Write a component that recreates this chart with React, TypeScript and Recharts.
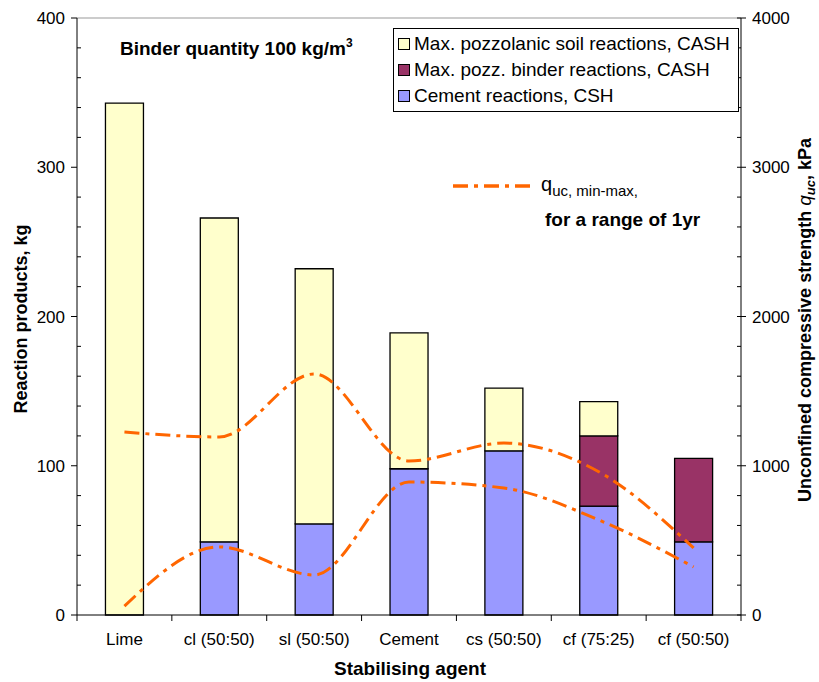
import React from "react";
import {
  Bar,
  ComposedChart,
  Customized,
  Legend,
  Line,
  ReferenceLine,
  XAxis,
  YAxis,
} from "recharts";

const agents = ["Lime", "cl (50:50)", "sl (50:50)", "Cement", "cs (50:50)", "cf (75:25)", "cf (50:50)"];
const cementCsh = [0, 49, 61, 98, 110, 73, 49];
const binderCash = [0, 0, 0, 0, 0, 47, 56];
const soilCash = [343, 217, 171, 91, 42, 23, 0];
const qucMax = [1226, 1193, 1615, 1032, 1152, 960, 449];
const qucMin = [60, 456, 268, 891, 851, 637, 322];

const leftTicks = [0, 20, 40, 60, 80, 100, 120, 140, 160, 180, 200, 220, 240, 260, 280, 300, 320, 340, 360, 380, 400];
const rightTicks = [0, 200, 400, 600, 800, 1000, 1200, 1400, 1600, 1800, 2000, 2200, 2400, 2600, 2800, 3000, 3200, 3400, 3600, 3800, 4000];

const legendItems = [
  { name: "Max. pozzolanic soil reactions, CASH", color: "#ffffcc" },
  { name: "Max. pozz. binder reactions, CASH", color: "#993366" },
  { name: "Cement reactions, CSH", color: "#9999ff" },
];

const data = agents.map((agent, i) => ({
  agent,
  csh: cementCsh[i],
  binder: binderCash[i],
  soil: soilCash[i],
  qmax: qucMax[i],
  qmin: qucMin[i],
}));

const W = 819;
const H = 682;
const PLOT_LEFT = 77;
const PLOT_RIGHT = 741;
const PLOT_TOP = 18;
const PLOT_BOTTOM = 615;
const FONT = "'Liberation Sans', Arial, sans-serif";
const ORANGE = "#ff6600";
const DASH = "15 6 4 6";

const halfBand = (PLOT_RIGHT - PLOT_LEFT) / agents.length / 2;

function LeftTick(props: any) {
  const { y, payload } = props;
  const major = payload.value % 100 === 0;
  return (
    <g>
      {major ? (
        <line x1={PLOT_LEFT - 6} x2={PLOT_LEFT} y1={y} y2={y} stroke="#000" />
      ) : (
        <line x1={PLOT_LEFT} x2={PLOT_LEFT + 4} y1={y} y2={y} stroke="#000" />
      )}
      {major && (
        <text x={PLOT_LEFT - 12} y={y} dy={6} textAnchor="end" fontSize={17} fontFamily={FONT} fill="#000">
          {payload.value}
        </text>
      )}
    </g>
  );
}

function RightTick(props: any) {
  const { y, payload } = props;
  const major = payload.value % 1000 === 0;
  return (
    <g>
      {major ? (
        <line x1={PLOT_RIGHT - 4} x2={PLOT_RIGHT + 5} y1={y} y2={y} stroke="#000" />
      ) : (
        <line x1={PLOT_RIGHT - 4} x2={PLOT_RIGHT} y1={y} y2={y} stroke="#000" />
      )}
      {major && (
        <text x={PLOT_RIGHT + 11} y={y} dy={6} textAnchor="start" fontSize={17} fontFamily={FONT} fill="#000">
          {payload.value}
        </text>
      )}
    </g>
  );
}

function BottomTick(props: any) {
  const { x, payload, index } = props;
  const last = index === agents.length - 1;
  return (
    <g>
      <line x1={x - halfBand} x2={x - halfBand} y1={PLOT_BOTTOM} y2={PLOT_BOTTOM + 6} stroke="#000" />
      {last && (
        <line x1={x + halfBand} x2={x + halfBand} y1={PLOT_BOTTOM} y2={PLOT_BOTTOM + 6} stroke="#000" />
      )}
      <text x={x} y={PLOT_BOTTOM + 30} textAnchor="middle" fontSize={17} fontFamily={FONT} fill="#000">
        {payload.value}
      </text>
    </g>
  );
}

function LegendBox() {
  return (
    <div
      style={{
        border: "1px solid #000",
        background: "#fff",
        padding: "2px 4px 2px 4px",
        fontFamily: FONT,
        fontSize: 19,
        lineHeight: "26px",
        color: "#000",
        boxSizing: "border-box",
        width: 346,
      }}
    >
      {legendItems.map((item) => (
        <div key={item.name} style={{ display: "flex", alignItems: "center", whiteSpace: "nowrap" }}>
          <span
            style={{
              display: "inline-block",
              width: 10,
              height: 10,
              background: item.color,
              border: "1px solid #000",
              marginRight: 4,
            }}
          />
          {item.name}
        </div>
      ))}
    </div>
  );
}

function Annotations() {
  return (
    <g fontFamily={FONT} fill="#000">
      <text x={120} y={55} fontSize={19} fontWeight="bold">
        Binder quantity 100 kg/m
        <tspan fontSize={12} dy={-8}>3</tspan>
      </text>

      <line x1={453} x2={535} y1={186} y2={186} stroke={ORANGE} strokeWidth={3.5} strokeDasharray={DASH} />
      <text x={541} y={191} fontSize={20}>
        q
        <tspan fontSize={15} dy={5}>uc, min-max,</tspan>
      </text>
      <text x={545} y={226} fontSize={19} fontWeight="bold">
        for a range of 1yr
      </text>

      <text
        x={0}
        y={0}
        transform="translate(27 319) rotate(-90)"
        textAnchor="middle"
        fontSize={18}
        fontWeight="bold"
      >
        Reaction products,  kg
      </text>

      <text
        x={0}
        y={0}
        transform="translate(811 320) rotate(-90)"
        textAnchor="middle"
        fontSize={18}
        fontWeight="bold"
      >
        Unconfined compressive strength{" "}
        <tspan fontStyle="italic" fontWeight="normal" fontSize={19}>q</tspan>
        <tspan fontStyle="italic" fontSize={13} dy={4}>uc</tspan>
        <tspan dy={-4}>, kPa</tspan>
      </text>

      <text x={410} y={675} textAnchor="middle" fontSize={19} fontWeight="bold">
        Stabilising agent
      </text>
    </g>
  );
}

export default function App() {
  return (
    <div style={{ position: "absolute", left: 0, top: 0, width: W, height: H, background: "#fff" }}>
      <ComposedChart
        width={W}
        height={H}
        data={data}
        margin={{ top: PLOT_TOP, right: 0, bottom: 0, left: 0 }}
        barCategoryGap="30%"
      >
        <XAxis
          dataKey="agent"
          height={H - PLOT_BOTTOM}
          interval={0}
          tickLine={false}
          axisLine={{ stroke: "#000" }}
          tick={(p: any) => <BottomTick {...p} />}
        />
        <YAxis
          yAxisId="left"
          orientation="left"
          width={PLOT_LEFT}
          domain={[0, 400]}
          ticks={leftTicks}
          interval={0}
          tickLine={false}
          axisLine={{ stroke: "#000" }}
          tick={(p: any) => <LeftTick {...p} />}
        />
        <YAxis
          yAxisId="right"
          orientation="right"
          width={W - PLOT_RIGHT}
          domain={[0, 4000]}
          ticks={rightTicks}
          interval={0}
          tickLine={false}
          axisLine={{ stroke: "#000" }}
          tick={(p: any) => <RightTick {...p} />}
        />
        <ReferenceLine yAxisId="left" y={400} stroke="#999" />
        <Legend
          layout="vertical"
          align="center"
          verticalAlign="middle"
          wrapperStyle={{ position: "absolute", left: 393, top: 28, width: 346 }}
          content={() => <LegendBox />}
        />
        <Bar yAxisId="left" dataKey="csh" stackId="a" fill="#9999ff" stroke="#000" strokeWidth={1.3} isAnimationActive={false} />
        <Bar yAxisId="left" dataKey="binder" stackId="a" fill="#993366" stroke="#000" strokeWidth={1.3} isAnimationActive={false} />
        <Bar yAxisId="left" dataKey="soil" stackId="a" fill="#ffffcc" stroke="#000" strokeWidth={1.3} isAnimationActive={false} />
        <Line
          yAxisId="right"
          type="monotone"
          dataKey="qmax"
          stroke={ORANGE}
          strokeWidth={3}
          strokeDasharray={DASH}
          dot={false}
          activeDot={false}
          isAnimationActive={false}
        />
        <Line
          yAxisId="right"
          type="monotone"
          dataKey="qmin"
          stroke={ORANGE}
          strokeWidth={3}
          strokeDasharray={DASH}
          dot={false}
          activeDot={false}
          isAnimationActive={false}
        />
        <Customized component={<Annotations />} />
      </ComposedChart>
    </div>
  );
}
